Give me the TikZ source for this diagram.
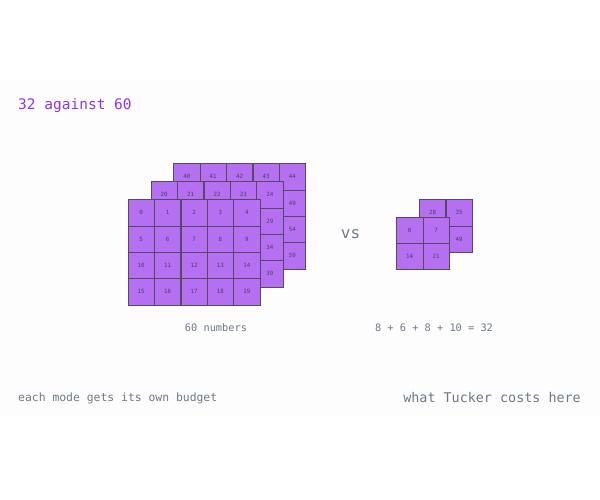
\documentclass[tikz,border=0pt]{standalone}
\usepackage{fontspec}
\setmonofont{DejaVu Sans Mono}
\definecolor{panel}{RGB}{253,253,253}
\definecolor{cellfill}{RGB}{180,112,240}
\definecolor{cellborder}{RGB}{88,72,104}
\definecolor{celltext}{RGB}{80,60,100}
\definecolor{titlecol}{RGB}{147,51,234}
\definecolor{greytext}{RGB}{112,120,135}
\begin{document}
\begin{tikzpicture}[x=1pt,y=-1pt,
  cell/.style={draw=cellborder, fill=cellfill, line width=0.7pt,
    minimum width=26.3pt, minimum height=26.3pt, inner sep=0pt,
    anchor=north west, font=\ttfamily\fontsize{5.8}{6}\selectfont, text=celltext},
  lbl/.style={font=\ttfamily\fontsize{10.3}{12}\selectfont, text=greytext, inner sep=0pt}]
\useasboundingbox (0,0) rectangle (600,500);
\fill[panel] (0,81) rectangle (600,415);
% big stack: back, middle, front
\foreach \r in {0,...,3} \foreach \c in {0,...,4} {
  \pgfmathtruncatemacro\n{40+5*\r+\c}
  \node[cell] (back-\r-\c) at (173.3+\c*26.4, 163.3+\r*26.3) {\n};
}
\foreach \r in {0,...,3} \foreach \c in {0,...,4} {
  \pgfmathtruncatemacro\n{20+5*\r+\c}
  \node[cell] (mid-\r-\c) at (150.7+\c*26.4, 181.3+\r*26.3) {\n};
}
\foreach \r in {0,...,3} \foreach \c in {0,...,4} {
  \pgfmathtruncatemacro\n{5*\r+\c}
  \node[cell] (front-\r-\c) at (127.7+\c*26.4, 199.3+\r*26.3) {\n};
}
% small stack
\foreach \r in {0,1} \foreach \c in {0,1} {
  \pgfmathtruncatemacro\n{28+14*\r+7*\c}
  \node[cell] (sback-\r-\c) at (419+\c*26.5, 199.3+\r*26.5) {\n};
}
\foreach \r in {0,1} \foreach \c in {0,1} {
  \pgfmathtruncatemacro\n{14*\r+7*\c}
  \node[cell] (sfront-\r-\c) at (396.2+\c*26.5, 216.5+\r*26.5) {\n};
}
% texts
\node[anchor=west, inner sep=0pt, font=\ttfamily\fontsize{14.5}{16}\selectfont, text=titlecol] (title) at (18,106) {32 against 60};
\node[inner sep=0pt, font=\ttfamily\fontsize{16}{18}\selectfont, text=greytext] (vs) at (350.5,234) {vs};
\node[lbl] (left) at (216,328) {60 numbers};
\node[lbl] (right) at (434,328) {8 + 6 + 8 + 10 = 32};
\node[anchor=west, inner sep=0pt, font=\ttfamily\fontsize{11.4}{13}\selectfont, text=greytext] (foot1) at (18,398.5) {each mode gets its own budget};
\node[anchor=east, inner sep=0pt, font=\ttfamily\fontsize{13.4}{15}\selectfont, text=greytext] (foot2) at (581,397.5) {what Tucker costs here};
\end{tikzpicture}
\end{document}
